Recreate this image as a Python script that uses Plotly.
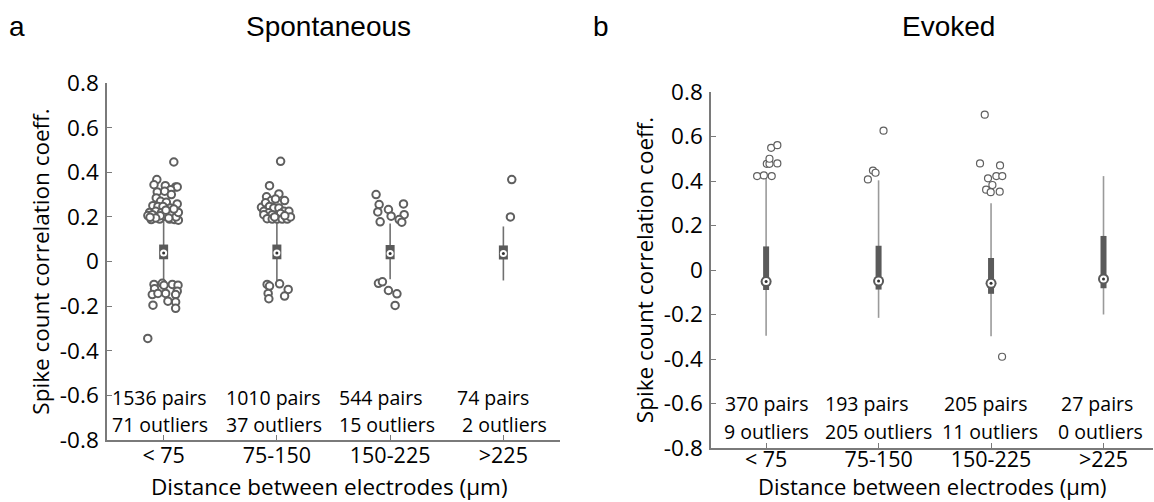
import plotly.graph_objects as go

# ---------------- data ----------------
categories = ["< 75", "75-150", "150-225", ">225"]
cat_pos = [1, 2, 3, 4]

# Spontaneous (panel a): box statistics
spont_q1 = [0.010, 0.010, 0.010, 0.009]
spont_median = [0.038, 0.038, 0.036, 0.036]
spont_q3 = [0.076, 0.076, 0.074, 0.072]
spont_low = [-0.094, -0.100, -0.080, -0.085]
spont_high = [0.190, 0.180, 0.170, 0.157]
spont_pairs = [1536, 1010, 544, 74]
spont_outliers = [71, 37, 15, 2]

# Spontaneous outliers: category index, horizontal jitter (category units), value
spont_out_cat = (
    [1] * 58 + [2] * 34 + [3] * 15 + [4] * 2
)
spont_out_jit = [
    # cat 1 (upper)
    0.09, -0.06, -0.085, 0.015, 0.106, 0.12, 0.062, -0.056, 0.009, 0.068,
    -0.065, -0.095, -0.027, 0.024, 0.12, -0.05, -0.006, 0.059, -0.124, -0.07,
    -0.02, 0.038, 0.083, 0.118, -0.109, -0.035, 0.053, 0.097, 0.13, 0.009,
    -0.139, -0.08, -0.10, -0.03, 0.07, 0.11, 0.13, 0.045, -0.07, 0.09,
    0.02, -0.12,
    # cat 1 (lower)
    -0.085, -0.012, 0.077, 0.127, -0.08, 0.003, 0.12, -0.10, -0.05, 0.018,
    0.106, -0.094, 0.038, 0.106, 0.106, -0.14,
    # cat 2 (upper)
    0.033, -0.065, 0.018, -0.091, 0.068, -0.05, -0.012, -0.136, -0.10, -0.065,
    -0.027, 0.018, -0.115, -0.071, 0.062, 0.106, -0.115, -0.041, 0.033, -0.086,
    -0.041, 0.003, 0.047, 0.091, 0.12, 0.07, -0.02,
    # cat 2 (lower)
    -0.086, -0.065, 0.024, 0.10, -0.077, 0.068, -0.071,
    # cat 3
    -0.124, -0.097, -0.109, -0.015, 0.118, 0.009, 0.124, -0.088, 0.08, 0.103,
    -0.103, -0.068, -0.015, 0.06, 0.044,
    # cat 4
    0.074, 0.062,
]
spont_out_val = [
    # cat 1 (upper)
    0.446, 0.367, 0.344, 0.340, 0.334, 0.334, 0.322, 0.312, 0.315, 0.300,
    0.285, 0.250, 0.270, 0.265, 0.258, 0.247, 0.247, 0.240, 0.220, 0.225,
    0.218, 0.225, 0.220, 0.215, 0.188, 0.190, 0.190, 0.188, 0.185, 0.203,
    0.206, 0.203, 0.210, 0.205, 0.210, 0.200, 0.220, 0.195, 0.195, 0.235,
    0.230, 0.198,
    # cat 1 (lower)
    -0.103, -0.098, -0.103, -0.106, -0.122, -0.107, -0.133, -0.148, -0.143, -0.143,
    -0.148, -0.196, -0.178, -0.182, -0.210, -0.345,
    # cat 2 (upper)
    0.449, 0.340, 0.303, 0.290, 0.273, 0.273, 0.280, 0.243, 0.263, 0.247,
    0.240, 0.240, 0.225, 0.218, 0.225, 0.225, 0.210, 0.210, 0.215, 0.192,
    0.190, 0.190, 0.190, 0.190, 0.200, 0.205, 0.200,
    # cat 2 (lower)
    -0.103, -0.110, -0.100, -0.125, -0.143, -0.155, -0.167,
    # cat 3
    0.300, 0.255, 0.222, 0.233, 0.258, 0.203, 0.210, 0.178, 0.188, 0.176,
    -0.098, -0.091, -0.130, -0.145, -0.197,
    # cat 4
    0.367, 0.200,
]

# Evoked (panel b): box statistics
evok_q1 = [-0.090, -0.088, -0.107, -0.082]
evok_median = [-0.052, -0.050, -0.060, -0.040]
evok_q3 = [0.106, 0.109, 0.054, 0.153]
evok_low = [-0.295, -0.215, -0.298, -0.200]
evok_high = [0.420, 0.403, 0.300, 0.422]
evok_pairs = [370, 193, 205, 27]
evok_outliers = [9, 205, 11, 0]

evok_out_cat = [1] * 9 + [2] * 4 + [3] * 11
evok_out_jit = [
    -0.08, -0.02, 0.05, 0.006, 0.03, 0.10, 0.03, 0.045, 0.10,
    -0.095, -0.05, -0.027, 0.044,
    -0.056, -0.098, 0.08, -0.027, 0.047, 0.10, 0.012, -0.044, -0.003, 0.077, 0.098,
]
evok_out_val = [
    0.422, 0.425, 0.422, 0.477, 0.477, 0.479, 0.500, 0.549, 0.561,
    0.407, 0.447, 0.437, 0.626,
    0.698, 0.479, 0.470, 0.412, 0.422, 0.422, 0.382, 0.361, 0.350, 0.352, -0.390,
]

ytick_vals = [-0.8, -0.6, -0.4, -0.2, 0, 0.2, 0.4, 0.6, 0.8]
ytick_text = ["-0.8", "-0.6", "-0.4", "-0.2", "0", "0.2", "0.4", "0.6", "0.8"]

# ---------------- figure ----------------
W, H = 1154, 502
FONT = "Open Sans"
TFONT = "Liberation Sans"
BOX = "#5a5a5a"
TICK_SIZE = 22.5
XT_SIZE = 21.5
NOTE_SIZE = 19.5


def fx(p):
    return p / W


def fy(p):
    return 1 - p / H


fig = go.Figure()


def add_panel(xa, ya, q1, med, q3, lo, hi, ocat, ojit, oval,
              whisk_col, box_w, ring_size, out_size, out_lw, dark_ring):
    # whiskers
    wx, wy = [], []
    for c, l, h in zip(cat_pos, lo, hi):
        wx += [c, c, None]
        wy += [l, h, None]
    fig.add_trace(go.Scatter(x=wx, y=wy, mode="lines", xaxis=xa, yaxis=ya,
                             line=dict(color=whisk_col, width=1.6),
                             hoverinfo="skip", showlegend=False))
    # boxes
    bx, by = [], []
    for c, a, b in zip(cat_pos, q1, q3):
        bx += [c, c, None]
        by += [a, b, None]
    fig.add_trace(go.Scatter(x=bx, y=by, mode="lines", xaxis=xa, yaxis=ya,
                             line=dict(color=BOX, width=box_w),
                             hoverinfo="skip", showlegend=False))
    # outliers
    ox = [cat_pos[c - 1] + j for c, j in zip(ocat, ojit)]
    fig.add_trace(go.Scatter(x=ox, y=oval, mode="markers", xaxis=xa, yaxis=ya,
                             marker=dict(symbol="circle", size=out_size,
                                         color="white",
                                         line=dict(color="#5f5f5f", width=out_lw)),
                             hoverinfo="skip", showlegend=False))
    # median
    if dark_ring:
        fig.add_trace(go.Scatter(x=cat_pos, y=med, mode="markers", xaxis=xa, yaxis=ya,
                                 marker=dict(symbol="circle", size=11, color=BOX,
                                             line=dict(width=0)),
                                 hoverinfo="skip", showlegend=False))
    fig.add_trace(go.Scatter(x=cat_pos, y=med, mode="markers", xaxis=xa, yaxis=ya,
                             marker=dict(symbol="circle", size=ring_size, color="white",
                                         line=dict(width=0)),
                             hoverinfo="skip", showlegend=False))
    fig.add_trace(go.Scatter(x=cat_pos, y=med, mode="markers", xaxis=xa, yaxis=ya,
                             marker=dict(symbol="circle", size=3, color="#333333",
                                         line=dict(width=0)),
                             hoverinfo="skip", showlegend=False))


add_panel("x", "y", spont_q1, spont_median, spont_q3, spont_low, spont_high,
          spont_out_cat, spont_out_jit, spont_out_val,
          whisk_col="#707070", box_w=9, ring_size=7, out_size=7.5, out_lw=2.0,
          dark_ring=False)
add_panel("x2", "y2", evok_q1, evok_median, evok_q3, evok_low, evok_high,
          evok_out_cat, evok_out_jit, evok_out_val,
          whisk_col="#9a9a9a", box_w=6, ring_size=7, out_size=7, out_lw=1.2,
          dark_ring=True)

axis_common = dict(showline=True, linecolor="#7a7a7a", linewidth=1.5,
                   ticks="inside", ticklen=5, tickcolor="#7a7a7a", tickwidth=1.2,
                   showgrid=False, zeroline=False,
                   automargin=False)
yfont = dict(family=FONT, size=TICK_SIZE, color="black")
xfont = dict(family=FONT, size=XT_SIZE, color="black")

xtitle = "Distance between electrodes (μm)"
ytitle = "Spike count correlation coeff."

fig.update_layout(
    width=W, height=H,
    margin=dict(l=0, r=0, t=0, b=0),
    paper_bgcolor="white", plot_bgcolor="white",
    font=dict(family=FONT, color="black"),
    xaxis=dict(domain=[fx(107), fx(560)], range=[0.5, 4.5], anchor="y",
               tickvals=cat_pos, ticktext=categories, ticklabelstandoff=-5,
               tickfont=xfont, **axis_common),
    yaxis=dict(domain=[fy(440), fy(83)], range=[-0.8, 0.8], anchor="x",
               tickvals=ytick_vals, ticktext=ytick_text, ticklabelstandoff=2,
               tickfont=yfont,
               title=dict(text=ytitle, font=dict(family=FONT, size=TICK_SIZE), standoff=4),
               **axis_common),
    xaxis2=dict(domain=[fx(711), fx(1153)], range=[0.51, 4.44], anchor="y2",
                tickvals=cat_pos, ticktext=categories, ticklabelstandoff=-9,
                tickfont=xfont, **axis_common),
    yaxis2=dict(domain=[fy(448), fy(92)], range=[-0.8, 0.8], anchor="x2",
                tickvals=ytick_vals, ticktext=ytick_text, ticklabelstandoff=2,
                tickfont=yfont,
                title=dict(text=ytitle, font=dict(family=FONT, size=TICK_SIZE), standoff=4),
                **axis_common),
)

annots = []
# panel letters and titles
for txt, x, y in [("a", 17, 27), ("b", 601, 27), ("Spontaneous", 328, 27), ("Evoked", 948, 27)]:
    annots.append(dict(text=txt, x=fx(x), y=fy(y), xref="paper", yref="paper",
                       xanchor="center", yanchor="middle", showarrow=False,
                       font=dict(family=TFONT, size=28, color="black")))

# x-axis titles
for x, y, s in [(330, 486, TICK_SIZE), (933, 486, 22)]:
    annots.append(dict(text=xtitle, x=fx(x), y=fy(y), xref="paper", yref="paper",
                       xanchor="center", yanchor="middle", showarrow=False,
                       font=dict(family=FONT, size=s, color="black")))

# counts, panel a (left aligned)
left_off_pairs = [-0.47, -0.47, -0.47, -0.43]
left_off_outl = [-0.47, -0.47, -0.47, -0.38]
for c, p, o, op, oo in zip(cat_pos, spont_pairs, spont_outliers, left_off_pairs, left_off_outl):
    annots.append(dict(text=f"{p} pairs", x=c + op, y=-0.61, xref="x", yref="y",
                       xanchor="left", yanchor="middle", showarrow=False,
                       font=dict(family=FONT, size=NOTE_SIZE)))
    annots.append(dict(text=f"{o} outliers", x=c + oo, y=-0.73, xref="x", yref="y",
                       xanchor="left", yanchor="middle", showarrow=False,
                       font=dict(family=FONT, size=NOTE_SIZE)))

# counts, panel b (centred)
right_off_pairs = [0.0, -0.11, -0.05, -0.06]
right_off_outl = [0.0, 0.0, -0.01, -0.03]
for c, p, o, op, oo in zip(cat_pos, evok_pairs, evok_outliers, right_off_pairs, right_off_outl):
    annots.append(dict(text=f"{p} pairs", x=c + op, y=-0.60, xref="x2", yref="y2",
                       xanchor="center", yanchor="middle", showarrow=False,
                       font=dict(family=FONT, size=NOTE_SIZE)))
    annots.append(dict(text=f"{o} outliers", x=c + oo, y=-0.725, xref="x2", yref="y2",
                       xanchor="center", yanchor="middle", showarrow=False,
                       font=dict(family=FONT, size=NOTE_SIZE)))

fig.update_layout(annotations=annots)
fig.write_html("out.html")
